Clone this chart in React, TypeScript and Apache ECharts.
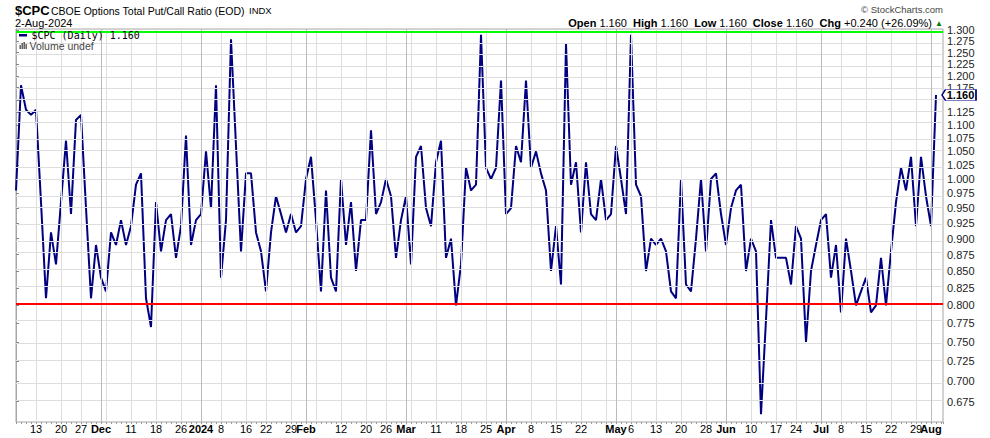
import React, { useEffect, useRef } from 'react';
import * as echarts from 'echarts';

// Daily closes of $CPC, one per trading day, 7-Nov-2023 .. 2-Aug-2024
const closes: number[] = [
  0.98, 1.18, 1.13, 1.12, 1.13, 0.96, 0.81, 0.91, 0.86, 0.96,
  1.07, 0.94, 1.11, 1.12, 0.95, 0.81, 0.89, 0.84, 0.82, 0.91,
  0.89, 0.93, 0.89, 0.92, 0.99, 1.01, 0.81, 0.77, 0.96, 0.88,
  0.93, 0.94, 0.87, 0.92, 1.08, 0.89, 0.93, 0.94, 1.05, 0.95,
  1.18, 0.84, 0.93, 1.28, 1.06, 0.88, 1.01, 1.01, 0.91, 0.88,
  0.82, 0.91, 0.97, 0.94, 0.91, 0.94, 0.91, 0.92, 1.00, 1.04,
  0.93, 0.82, 0.98, 0.84, 0.82, 1.00, 0.89, 0.96, 0.85, 0.93,
  0.93, 1.09, 0.94, 0.96, 1.00, 0.97, 0.87, 0.93, 0.97, 0.86,
  1.04, 1.06, 0.95, 0.92, 1.03, 1.07, 0.87, 0.90, 0.80, 0.86,
  1.02, 0.98, 0.99, 1.29, 1.02, 1.00, 1.02, 1.19, 0.94, 0.95,
  1.06, 1.03, 1.19, 1.02, 1.05, 1.01, 0.98, 0.85, 0.92, 0.83,
  1.27, 0.99, 1.03, 0.91, 1.03, 0.94, 0.93, 1.00, 0.93, 0.94,
  1.06, 1.00, 0.94, 1.29, 0.99, 0.97, 0.85, 0.90, 0.89, 0.90,
  0.88, 0.82, 0.81, 1.00, 0.83, 0.82, 0.90, 1.00, 0.88, 1.00,
  1.01, 0.94, 0.89, 0.95, 0.98, 0.99, 0.85, 0.90, 0.88, 0.66,
  0.78, 0.93, 0.87, 0.87, 0.87, 0.83, 0.92, 0.90, 0.75, 0.85,
  0.89, 0.93, 0.94, 0.84, 0.89, 0.79, 0.90, 0.85, 0.80, 0.82,
  0.84, 0.79, 0.80, 0.87, 0.80, 0.88, 0.96, 1.02, 0.98, 1.04,
  0.92, 1.04, 0.97, 0.92, 1.16,
];

// x-axis labels (trading-day index -> label)
const tickDays: number[] = [4, 9, 13, 17, 23, 28, 33, 37, 41, 46, 50, 55, 58, 65, 70, 74, 78, 84, 89, 94, 98, 103, 108, 113, 120, 123, 128, 133, 138, 142, 147, 152, 156, 161, 165, 170, 175, 180, 183];
const tickLabels: string[] = ['13', '20', '27', 'Dec', '11', '18', '26', '2024', '8', '16', '22', '29', 'Feb', '12', '20', '26', 'Mar', '11', '18', '25', 'Apr', '8', '15', '22', 'May', '6', '13', '20', '28', 'Jun', '10', '17', '24', 'Jul', '8', '15', '22', '29', 'Aug'];
const boldLabels: string[] = ['Dec', '2024', 'Feb', 'Mar', 'Apr', 'May', 'Jun', 'Jul', 'Aug'];
// first trading day of each week / month (grid lines)
const weekDays: number[] = [4, 9, 13, 18, 23, 28, 33, 37, 41, 46, 50, 55, 60, 65, 70, 74, 79, 84, 89, 94, 98, 103, 108, 113, 118, 123, 128, 133, 138, 142, 147, 152, 156, 161, 165, 170, 175, 180];
const monthDays: number[] = [17, 37, 58, 78, 98, 120, 142, 161, 183];

// y-axis ticks (log scale)
const yTicks: number[] = [0.675, 0.7, 0.725, 0.75, 0.775, 0.8, 0.825, 0.85, 0.875, 0.9, 0.925, 0.95, 0.975, 1.0, 1.025, 1.05, 1.075, 1.1, 1.125, 1.15, 1.175, 1.2, 1.225, 1.25, 1.275, 1.3];
const yRange: number[] = [0.651, 1.3034];

const upperLevel = 1.3;
const lowerLevel = 0.8;

const quote = { open: 1.16, high: 1.16, low: 1.16, close: 1.16, chg: 0.24, chgPct: 26.09 };

const FONT = '"Liberation Sans", Arial, sans-serif';

export default function App() {
  const ref = useRef<HTMLDivElement>(null);

  useEffect(() => {
    if (!ref.current) return;
    const chart = echarts.init(ref.current, undefined, { renderer: 'svg' });
    const last = closes.length - 1;
    const xMax = closes.length + 0.4;
    const lnTicks = yTicks.map((v) => Math.log(v));
    // tick labels hidden behind the last-value box
    const lnLabelTicks = lnTicks.filter((t) => Math.abs(t - Math.log(closes[last])) > 0.012);
    const seriesData = closes.map((v, i) => [i, Math.log(v)]);

    const numberDays = tickDays.filter((_, k) => boldLabels.indexOf(tickLabels[k]) < 0);
    const monthLabelDays = tickDays.filter((_, k) => boldLabels.indexOf(tickLabels[k]) >= 0);
    const labelOf = (v: number) => {
      const k = tickDays.indexOf(Math.round(v));
      return k >= 0 ? tickLabels[k] : '';
    };

    const gridLineData: any[] = [
      ...lnTicks.map((t) => ({ yAxis: t, lineStyle: { color: '#dedede', width: 1, type: 'solid' } })),
      ...weekDays.map((d) => ({ xAxis: d, lineStyle: { color: '#dedede', width: 1, type: 'solid' } })),
      ...monthDays.map((d) => ({ xAxis: d, lineStyle: { color: '#bcbcbc', width: 1, type: 'solid' } })),
    ];

    const baseX = {
      type: 'value',
      min: 0,
      max: xMax,
      position: 'bottom',
      splitLine: { show: false },
    };

    const option: any = {
      animation: false,
      backgroundColor: '#ffffff',
      grid: {
        left: 16,
        top: 29,
        width: 927,
        height: 393,
        show: true,
        borderColor: '#a6a6a6',
        borderWidth: 1,
        backgroundColor: '#ffffff',
      },
      xAxis: [
        {
          ...baseX,
          axisLine: { show: true, lineStyle: { color: '#a6a6a6', width: 1 } },
          axisTick: { show: false },
          axisLabel: {
            customValues: numberDays,
            hideOverlap: false,
            margin: 1,
            color: '#000',
            fontSize: 11,
            fontFamily: FONT,
            formatter: labelOf,
          },
        },
        {
          ...baseX,
          interval: 1,
          axisLine: { show: false },
          axisTick: { show: true, length: 2, lineStyle: { color: '#9a9a9a' } },
          axisLabel: { show: false },
        },
        {
          ...baseX,
          axisLine: { show: false },
          axisTick: { show: false },
          axisLabel: {
            customValues: monthLabelDays,
            hideOverlap: false,
            margin: 1,
            color: '#000',
            fontSize: 11,
            fontWeight: 'bold',
            fontFamily: FONT,
            formatter: labelOf,
          },
        },
      ],
      yAxis: {
        type: 'value',
        position: 'right',
        min: Math.log(yRange[0]),
        max: Math.log(yRange[1]),
        axisLine: { show: true, lineStyle: { color: '#a6a6a6' } },
        axisTick: { show: true, length: 3, customValues: lnTicks, lineStyle: { color: '#888' } },
        axisLabel: {
          customValues: lnLabelTicks,
          hideOverlap: false,
          margin: 4,
          fontSize: 11,
          fontFamily: FONT,
          color: '#222',
          formatter: (v: number) => Math.exp(v).toFixed(3),
        },
        splitLine: { show: false },
      },
      series: [
        {
          // grid lines, drawn through the axes' own scales
          type: 'line',
          z: 1,
          silent: true,
          xAxisIndex: 0,
          yAxisIndex: 0,
          data: seriesData,
          symbol: 'none',
          lineStyle: { opacity: 0, width: 0 },
          markLine: {
            silent: true,
            symbol: 'none',
            label: { show: false },
            emphasis: { disabled: true },
            data: gridLineData,
          },
        },
        {
          type: 'line',
          z: 3,
          xAxisIndex: 0,
          yAxisIndex: 0,
          data: seriesData,
          symbol: 'none',
          showSymbol: false,
          lineStyle: { color: '#000080', width: 2 },
          itemStyle: { color: '#000080' },
          markLine: {
            silent: true,
            symbol: 'none',
            label: { show: false },
            data: [
              { yAxis: Math.log(upperLevel), lineStyle: { color: '#00ff00', width: 2, type: 'solid' } },
              { yAxis: Math.log(lowerLevel), lineStyle: { color: '#ff0000', width: 2, type: 'solid' } },
            ],
          },
          markPoint: {
            silent: true,
            symbol: 'path://M0,5.5 L3.5,0 L34,0 L34,11 L3.5,11 Z',
            symbolSize: [34, 11],
            symbolKeepAspect: false,
            symbolOffset: [23, 0],
            itemStyle: { color: '#ffffff', borderColor: '#000080', borderWidth: 1 },
            label: {
              show: true,
              position: 'inside',
              offset: [1.5, 0],
              formatter: () => closes[last].toFixed(3),
              fontWeight: 'bold',
              fontSize: 11,
              fontFamily: FONT,
              color: '#000',
            },
            data: [{ coord: [last, Math.log(closes[last])] }],
          },
        },
      ],
      graphic: [
        { type: 'text', x: 15, y: 10, style: { text: '$CPC', font: `bold 13px ${FONT}`, fill: '#000', verticalAlign: 'middle' } },
        { type: 'text', x: 51, y: 10.5, style: { text: 'CBOE Options Total Put/Call Ratio (EOD)', font: `10.5px ${FONT}`, fill: '#000', verticalAlign: 'middle' } },
        { type: 'text', x: 249, y: 10.5, style: { text: 'INDX', font: `9.5px ${FONT}`, fill: '#000', verticalAlign: 'middle' } },
        { type: 'text', x: 15, y: 23, style: { text: '2-Aug-2024', font: `11px ${FONT}`, fill: '#000', verticalAlign: 'middle' } },
        { type: 'text', x: 943, y: 9, style: { text: '\u00a9 StockCharts.com', font: `9.5px ${FONT}`, fill: '#444', align: 'right', verticalAlign: 'middle' } },
        {
          type: 'text',
          x: 943,
          y: 23,
          style: {
            text:
              `{b|Open} ${quote.open.toFixed(3)}  {b|High} ${quote.high.toFixed(3)}  {b|Low} ${quote.low.toFixed(3)}  ` +
              `{b|Close} ${quote.close.toFixed(3)}  {b|Chg} +${quote.chg.toFixed(3)} (+${quote.chgPct.toFixed(2)}%) {g|\u25b2}`,
            font: `11px ${FONT}`,
            fill: '#000',
            align: 'right',
            verticalAlign: 'middle',
            rich: {
              b: { font: `bold 11px ${FONT}`, fill: '#000' },
              g: { font: `8px ${FONT}`, fill: '#008000' },
            },
          },
        },
        // legend
        { type: 'rect', z: 10, shape: { x: 19, y: 34, width: 8, height: 2.5 }, style: { fill: '#000080' } },
        { type: 'text', z: 10, x: 31.5, y: 35.5, style: { text: `$CPC (Daily) ${closes[last].toFixed(3)}`, font: '10px "DejaVu Sans Mono", monospace', fill: '#000', verticalAlign: 'middle' } },
        { type: 'rect', z: 10, shape: { x: 19.5, y: 45, width: 1.4, height: 4 }, style: { fill: '#555' } },
        { type: 'rect', z: 10, shape: { x: 21.5, y: 43, width: 1.4, height: 6 }, style: { fill: '#555' } },
        { type: 'rect', z: 10, shape: { x: 23.5, y: 42, width: 1.4, height: 7 }, style: { fill: '#555' } },
        { type: 'rect', z: 10, shape: { x: 25.5, y: 44, width: 1.4, height: 5 }, style: { fill: '#555' } },
        { type: 'text', z: 10, x: 29.5, y: 45.7, style: { text: 'Volume undef', font: `10.5px ${FONT}`, fill: '#444', verticalAlign: 'middle' } },
      ],
    };

    chart.setOption(option);
    return () => chart.dispose();
  }, []);

  return (
    <div
      ref={ref}
      style={{ position: 'absolute', left: 0, top: 0, width: 990, height: 438, background: '#fff' }}
    />
  );
}
